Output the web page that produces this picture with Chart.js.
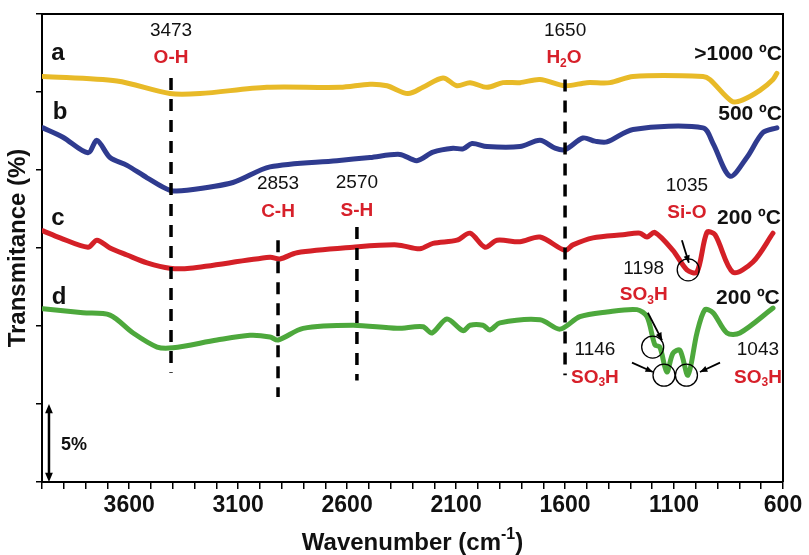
<!DOCTYPE html>
<html>
<head>
<meta charset="utf-8">
<script src="https://cdn.jsdelivr.net/npm/chart.js@4"></script>
<style>
  html, body { margin: 0; padding: 0; background: #fff; }
</style>
</head>
<body>
<canvas id="ftir" width="809" height="555"></canvas>
<script>
// FTIR spectra, wavenumber (cm-1) vs transmittance (%), curves are offset
const waveA = [3995, 3656, 3413, 3275, 2968, 2633, 2495, 2417, 2321, 2252, 2160, 2096, 2036, 1958, 1885, 1807, 1715, 1600, 1500, 1394, 1288, 967, 935, 834, 784, 706, 646, 628];
const transA = [26.0, 25.7, 24.9, 24.9, 25.3, 25.3, 25.5, 25.4, 24.9, 25.3, 25.9, 25.4, 25.6, 25.3, 25.6, 25.6, 25.8, 25.4, 25.6, 25.6, 26.0, 26.0, 25.8, 24.4, 24.5, 25.1, 25.8, 26.2];

const waveB = [3995, 3904, 3789, 3748, 3688, 3610, 3518, 3413, 3335, 3124, 2954, 2647, 2495, 2358, 2280, 2206, 2114, 2068, 2027, 1958, 1807, 1715, 1646, 1600, 1518, 1463, 1408, 1288, 967, 921, 843, 766, 692, 628];
const transB = [22.7, 22.1, 21.1, 21.9, 20.8, 20.3, 19.5, 18.7, 18.7, 19.2, 20.2, 20.6, 20.8, 21.0, 20.6, 21.15, 21.4, 21.35, 21.7, 21.5, 21.5, 21.9, 21.4, 21.3, 22.05, 21.85, 21.8, 22.6, 22.7, 21.7, 19.6, 20.8, 22.4, 22.7];

const waveC = [3995, 3917, 3789, 3748, 3688, 3610, 3518, 3413, 3321, 2954, 2908, 2830, 2573, 2371, 2266, 2206, 2096, 2036, 1967, 1912, 1807, 1715, 1600, 1564, 1472, 1334, 1256, 1224, 1188, 1105, 1041, 995, 949, 912, 830, 738, 646];
const transC = [16.1, 15.65, 15.05, 15.5, 15.0, 14.55, 14.05, 13.7, 13.7, 14.4, 14.3, 14.7, 15.05, 15.2, 14.95, 15.3, 15.5, 15.95, 15.05, 15.5, 15.4, 15.7, 14.85, 15.2, 15.65, 15.85, 15.95, 15.7, 16.0, 14.85, 13.6, 13.45, 16.0, 15.85, 13.45, 14.1, 15.95];

const waveD = [3995, 3812, 3688, 3582, 3472, 3399, 3197, 3046, 2954, 2917, 2802, 2573, 2371, 2252, 2211, 2142, 2068, 2036, 1977, 1945, 1899, 1715, 1623, 1532, 1408, 1270, 1224, 1188, 1165, 1133, 1105, 1073, 1036, 995, 958, 921, 857, 798, 646];
const transD = [11.1, 10.85, 10.7, 9.55, 8.65, 8.6, 9.1, 9.4, 9.3, 9.1, 9.85, 10.05, 9.85, 9.95, 9.55, 10.45, 9.7, 10.05, 10.05, 9.75, 10.2, 10.4, 9.8, 10.6, 10.9, 11.05, 10.6, 8.8, 8.65, 7.05, 8.25, 8.45, 6.85, 9.55, 11.05, 10.85, 9.55, 9.55, 11.15];

// dashed band markers
const markerWave = [3408, 2917, 2555, 1600];
const markerTop = [25.9, 15.5, 16.35, 25.8];
const markerBottom = [7.0, 5.45, 6.5, 6.85];

const xTicks = [3600, 3100, 2600, 2100, 1600, 1100, 600];

const FONT = '"Liberation Sans", Arial, sans-serif';
const RED = '#d7202a';

function pts(w, t) {
  return w.map((v, i) => ({ x: v, y: t[i] }));
}

function curve(w, t, color) {
  return {
    data: pts(w, t),
    borderColor: color,
    borderWidth: 5,
    pointRadius: 0,
    tension: 0.3,
    borderJoinStyle: 'round',
    borderCapStyle: 'round',
    order: 2
  };
}

const datasets = [
  curve(waveA, transA, '#e8ba28'),
  curve(waveB, transB, '#2f3b8f'),
  curve(waveC, transC, '#d42027'),
  curve(waveD, transD, '#4da83c')
];
markerWave.forEach((w, i) => {
  datasets.push({
    data: [{ x: w, y: markerTop[i] }, { x: w, y: markerBottom[i] }],
    borderColor: '#000',
    borderWidth: 3.5,
    borderDash: [12, 9],
    pointRadius: 0,
    order: 1
  });
});

// text on the plot, positioned in data units
const notes = [
  { parts: [['3473']], x: 3408, y: 28.95 },
  { parts: [['O-H']], x: 3408, y: 27.2, color: RED, bold: true },
  { parts: [['1650']], x: 1600, y: 28.95 },
  { parts: [['H'], ['2', 'sub'], ['O']], x: 1605, y: 27.2, color: RED, bold: true },
  { parts: [['2853']], x: 2917, y: 19.1 },
  { parts: [['C-H']], x: 2917, y: 17.3, color: RED, bold: true },
  { parts: [['2570']], x: 2555, y: 19.2 },
  { parts: [['S-H']], x: 2555, y: 17.4, color: RED, bold: true },
  { parts: [['1035']], x: 1041, y: 19.0 },
  { parts: [['Si-O']], x: 1041, y: 17.25, color: RED, bold: true },
  { parts: [['1198']], x: 1239, y: 13.7 },
  { parts: [['SO'], ['3', 'sub'], ['H']], x: 1239, y: 12.0, color: RED, bold: true },
  { parts: [['1146']], x: 1463, y: 8.45 },
  { parts: [['SO'], ['3', 'sub'], ['H']], x: 1463, y: 6.7, color: RED, bold: true },
  { parts: [['1043']], x: 715, y: 8.45 },
  { parts: [['SO'], ['3', 'sub'], ['H']], x: 715, y: 6.7, color: RED, bold: true },
  { parts: [['a']], x: 3927, y: 27.5, bold: true, size: 24 },
  { parts: [['b']], x: 3917, y: 23.7, bold: true, size: 24 },
  { parts: [['c']], x: 3927, y: 16.9, bold: true, size: 24 },
  { parts: [['d']], x: 3922, y: 11.85, bold: true, size: 24 },
  { parts: [['>1000 ºC']], x: 605, y: 27.4, bold: true, size: 21, align: 'right' },
  { parts: [['500 ºC']], x: 605, y: 23.55, bold: true, size: 21, align: 'right' },
  { parts: [['200 ºC']], x: 610, y: 16.9, bold: true, size: 21, align: 'right' },
  { parts: [['200 ºC']], x: 615, y: 11.8, bold: true, size: 21, align: 'right' },
  { parts: [['5%']], x: 3913, y: 2.4, bold: true, size: 18, align: 'left' }
];

const circles = [
  { x: 1035, y: 13.6 },
  { x: 1198, y: 8.65 },
  { x: 1146, y: 6.85 },
  { x: 1043, y: 6.85 }
];

const arrows = [
  { x1: 1064, y1: 15.5, x2: 1032, y2: 14.05 },
  { x1: 1220, y1: 10.85, x2: 1155, y2: 9.1 },
  { x1: 1293, y1: 7.65, x2: 1197, y2: 7.05 },
  { x1: 889, y1: 7.65, x2: 981, y2: 7.05 }
];

function drawRich(ctx, parts, x, y, size, bold, color, align) {
  const w = bold ? 'bold ' : '';
  const small = Math.round(size * 0.65);
  const widths = parts.map(p => {
    ctx.font = w + (p[1] ? small : size) + 'px ' + FONT;
    return ctx.measureText(p[0]).width;
  });
  const total = widths.reduce((a, b) => a + b, 0);
  let cx = align === 'right' ? x - total : align === 'left' ? x : x - total / 2;
  ctx.fillStyle = color;
  ctx.textAlign = 'left';
  ctx.textBaseline = 'middle';
  parts.forEach((p, i) => {
    ctx.font = w + (p[1] ? small : size) + 'px ' + FONT;
    let dy = 0;
    if (p[1] === 'sub') dy = size * 0.3;
    if (p[1] === 'sup') dy = -size * 0.33;
    ctx.fillText(p[0], cx, y + dy);
    cx += widths[i];
  });
}

function arrowHead(ctx, x1, y1, x2, y2, len) {
  const a = Math.atan2(y2 - y1, x2 - x1);
  ctx.beginPath();
  ctx.moveTo(x2, y2);
  ctx.lineTo(x2 - len * Math.cos(a - 0.4), y2 - len * Math.sin(a - 0.4));
  ctx.lineTo(x2 - len * Math.cos(a + 0.4), y2 - len * Math.sin(a + 0.4));
  ctx.closePath();
  ctx.fill();
}

const decor = {
  id: 'decor',
  afterDraw(chart) {
    const ctx = chart.ctx;
    const sx = chart.scales.x, sy = chart.scales.y;
    const area = chart.chartArea;
    ctx.save();

    // top and right frame
    ctx.strokeStyle = '#000';
    ctx.lineWidth = 2;
    ctx.beginPath();
    ctx.moveTo(area.left, area.top);
    ctx.lineTo(area.right, area.top);
    ctx.lineTo(area.right, area.bottom);
    ctx.stroke();

    // circles and arrows
    ctx.lineWidth = 1.3;
    circles.forEach(c => {
      ctx.beginPath();
      ctx.arc(sx.getPixelForValue(c.x), sy.getPixelForValue(c.y), 11, 0, Math.PI * 2);
      ctx.stroke();
    });
    ctx.fillStyle = '#000';
    ctx.lineWidth = 1.8;
    arrows.forEach(a => {
      const x1 = sx.getPixelForValue(a.x1), y1 = sy.getPixelForValue(a.y1);
      const x2 = sx.getPixelForValue(a.x2), y2 = sy.getPixelForValue(a.y2);
      ctx.beginPath();
      ctx.moveTo(x1, y1);
      ctx.lineTo(x2, y2);
      ctx.stroke();
      arrowHead(ctx, x1, y1, x2, y2, 8);
    });

    // 5% scale bar
    const bx = sx.getPixelForValue(3968);
    const b0 = sy.getPixelForValue(0), b1 = sy.getPixelForValue(5);
    ctx.lineWidth = 2.5;
    ctx.beginPath();
    ctx.moveTo(bx, b0 - 4);
    ctx.lineTo(bx, b1 + 4);
    ctx.stroke();
    arrowHead(ctx, bx, b1 + 10, bx, b1, 10);
    arrowHead(ctx, bx, b0 - 10, bx, b0, 10);

    notes.forEach(n => {
      drawRich(ctx, n.parts, sx.getPixelForValue(n.x), sy.getPixelForValue(n.y),
        n.size || 19, !!n.bold, n.color || '#111', n.align || 'center');
    });

    // axis titles
    drawRich(ctx, [['Wavenumber (cm'], ['-1', 'sup'], [')']],
      (area.left + area.right) / 2, 543, 24, true, '#111', 'center');
    ctx.translate(18, (area.top + area.bottom) / 2);
    ctx.rotate(-Math.PI / 2);
    drawRich(ctx, [['Transmitance (%)']], 0, 0, 24, true, '#111', 'center');
    ctx.restore();
  }
};

new Chart(document.getElementById('ftir'), {
  type: 'line',
  data: { datasets: datasets },
  options: {
    responsive: false,
    animation: false,
    layout: { padding: { top: 14, right: 26, left: 0, bottom: 0 } },
    plugins: { legend: { display: false }, tooltip: { enabled: false } },
    scales: {
      x: {
        type: 'linear',
        reverse: true,
        min: 600,
        max: 4000,
        afterFit: s => { s.height = 73; },
        border: { color: '#000', width: 2 },
        grid: { drawOnChartArea: false, color: '#000', lineWidth: 1.5, tickLength: 7 },
        ticks: {
          stepSize: 100,
          autoSkip: false,
          maxRotation: 0,
          padding: 3,
          color: '#111',
          font: { family: FONT, size: 23, weight: 'bold' },
          callback: v => (xTicks.includes(v) ? String(v) : '')
        }
      },
      y: {
        min: 0,
        max: 30,
        afterFit: s => { s.width = 42; },
        border: { color: '#000', width: 2 },
        grid: { drawOnChartArea: false, color: '#000', lineWidth: 1.5, tickLength: 6 },
        ticks: { stepSize: 5, display: false }
      }
    }
  },
  plugins: [decor]
});
</script>
</body>
</html>
